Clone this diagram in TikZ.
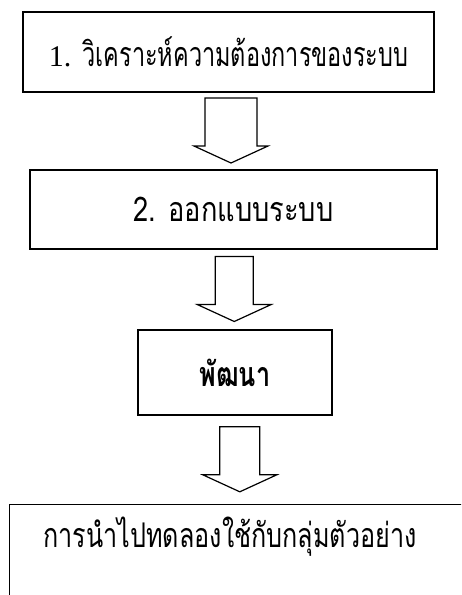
\documentclass[tikz,border=0pt]{standalone}
\usepackage{fontspec}
\setmainfont{Liberation Serif}
\newfontfamily\thaifont[Script=Thai,FakeStretch=0.74]{Loma}
\newfontfamily\thaiwide[Script=Thai,FakeStretch=0.8]{Loma}
\newfontfamily\thainarrow[Script=Thai,FakeStretch=0.69]{Loma}
\usetikzlibrary{calc}

\tikzset{
  box/.style={draw, line width=1.2pt, inner sep=0pt, align=center,
    font=\fontsize{34}{40}\selectfont\thaifont},
  pics/blockarrow/.style={code={
    \draw[line width=1.2pt, line join=miter]
      (-#1,-33) -- (#1,-33) -- (#1,15) -- (37,15) -- (0,32)
      -- (-37,15) -- (-#1,15) -- cycle;
  }}
}

\begin{document}
\begin{tikzpicture}[x=1pt,y=-1pt]
\useasboundingbox[fill=white] (0,0) rectangle (461,595);
\clip (0,0) rectangle (461,595);

% steps
\node[box, minimum width=411, minimum height=80] (b1) at (228.5,52)
  {{\rmfamily\fontsize{30}{36}\selectfont 1.} \thainarrow วิเคราะห์ความต้องการของระบบ};
\node[box, minimum width=407, minimum height=79] (b2) at (233.5,209.5)
  {\raisebox{-4pt}{\thaiwide 2. ออกแบบระบบ}};
\node[box, minimum width=194, minimum height=85] (b3) at (235,372.5)
  {\bfseries พัฒนา};
\node[box, minimum width=470, minimum height=120, anchor=north west] (b4) at (9,504) {};
\node[font=\fontsize{34}{40}\selectfont\thaifont] (t4) at (230,537)
  {การนำไปทดลองใช้กับกลุ่มตัวอย่าง};

% arrows between steps
\pic at ($(b1.south)!.5!(b2.north)$) {blockarrow=26};
\pic at ($(b2.south)!.5!(b3.north)$) {blockarrow=19};
\pic at ($(b3.south)!.5!(b4.north)$) {blockarrow=20};
\end{tikzpicture}
\end{document}
